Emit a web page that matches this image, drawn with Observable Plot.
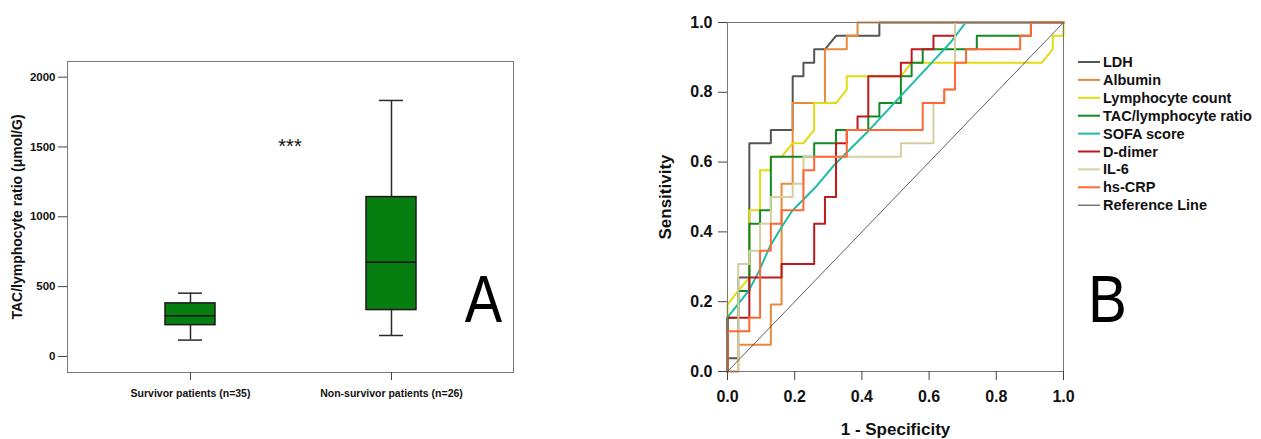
<!DOCTYPE html>
<html><head><meta charset="utf-8">
<script src="https://cdn.jsdelivr.net/npm/d3@7"></script>
<script src="https://cdn.jsdelivr.net/npm/@observablehq/plot@0.6"></script>
<style>
html,body{margin:0;padding:0;background:#fff;}
#wrap{position:relative;width:1261px;height:439px;overflow:hidden;background:#fff;}
#wrap > svg{position:absolute;top:0;margin:0;}
</style></head><body><div id="wrap"></div>
<script>
const FONT = '"Liberation Sans", Arial, Helvetica, sans-serif';

// ---------- Panel A: box plot ----------
const groups   = ["Survivor patients (n=35)", "Non-survivor patients (n=26)"];
const whiskLow = [117, 150];
const q1       = [224, 332];
const medians  = [291, 675];
const q3       = [380, 1141];
const whiskHigh= [453, 1833];
const yTicksA  = [0, 500, 1000, 1500, 2000];
const yTitleA  = "TAC/lymphocyte ratio (\u03bcmol/G)";

// ---------- Panel B: ROC curves ([1 - specificity, sensitivity]) ----------
const ldh = [[0,0],[0,.038],[.032,.038],[.032,.269],[.065,.269],[.065,.654],[.129,.654],[.129,.692],[.194,.692],[.194,.846],[.226,.846],[.226,.885],[.258,.885],[.258,.923],[.290,.923],[.323,.962],[.452,.962],[.452,1],[1,1]];
const albumin = [[0,0],[.032,0],[.032,.077],[.129,.077],[.129,.192],[.161,.192],[.161,.538],[.194,.538],[.194,.769],[.290,.769],[.290,.923],[.355,.923],[.355,.962],[.387,.962],[.387,1],[1,1]];
const lymphocyte = [[0,0],[0,.192],[.032,.231],[.065,.269],[.065,.462],[.097,.462],[.097,.577],[.129,.577],[.129,.615],[.161,.615],[.194,.654],[.226,.654],[.258,.692],[.258,.769],[.323,.769],[.355,.808],[.355,.846],[.516,.846],[.548,.885],[.935,.885],[.968,.923],[.968,.962],[1,.962],[1,1]];
const tacRatio = [[0,0],[0,.154],[.032,.154],[.032,.231],[.065,.231],[.065,.423],[.097,.423],[.097,.462],[.129,.462],[.129,.615],[.258,.615],[.258,.654],[.323,.654],[.323,.692],[.419,.692],[.419,.731],[.452,.731],[.452,.769],[.516,.769],[.516,.846],[.548,.846],[.548,.885],[.581,.885],[.581,.923],[.742,.923],[.742,.962],[.903,.962],[.903,1],[1,1]];
const sofa = [[0,0],[0,.155],[.063,.231],[.092,.284],[.127,.36],[.16,.412],[.192,.46],[.261,.527],[.32,.594],[.42,.69],[.664,.943],[.709,1],[1,1]];
const dDimer = [[0,0],[0,.154],[.065,.154],[.065,.269],[.161,.269],[.161,.308],[.258,.308],[.258,.423],[.290,.423],[.290,.5],[.323,.5],[.323,.654],[.355,.654],[.355,.692],[.387,.692],[.387,.731],[.419,.731],[.419,.846],[.516,.846],[.516,.885],[.548,.885],[.548,.923],[.613,.923],[.613,.962],[.677,.962],[.677,1],[1,1]];
const il6 = [[0,0],[.032,0],[.032,.308],[.065,.308],[.065,.346],[.097,.346],[.097,.423],[.129,.423],[.129,.5],[.194,.5],[.194,.538],[.226,.538],[.226,.615],[.516,.615],[.516,.654],[.613,.654],[.613,.769],[.645,.769],[.645,.808],[.677,.808],[.677,1],[1,1]];
const hsCrp = [[0,0],[0,.115],[.065,.115],[.065,.154],[.097,.154],[.097,.346],[.129,.346],[.129,.423],[.161,.423],[.161,.462],[.226,.462],[.226,.577],[.258,.577],[.258,.615],[.355,.615],[.355,.692],[.581,.692],[.581,.769],[.645,.769],[.645,.808],[.677,.808],[.677,.885],[.710,.885],[.710,.923],[.871,.923],[.871,.962],[.903,.962],[.903,1],[1,1]];
const refLine = [[0,0],[1,1]];

const seriesNames  = ["LDH","Albumin","Lymphocyte count","TAC/lymphocyte ratio","SOFA score","D-dimer","IL-6","hs-CRP","Reference Line"];
const seriesColors = ["#555555","#E8893C","#E2DA12","#138A22","#1DBBA6","#BD1A1D","#D3CFA1","#FF6835","#333333"];
const seriesData   = [ldh, albumin, lymphocyte, tacRatio, sofa, dDimer, il6, hsCrp, refLine];
const rocTicks = [0, 0.2, 0.4, 0.6, 0.8, 1.0];

const wrap = document.getElementById("wrap");

// ---------- build panel A ----------
const boxData = groups.map((g, i) => ({group: g, low: whiskLow[i], q1: q1[i], med: medians[i], q3: q3[i], high: whiskHigh[i]}));
const plotA = Plot.plot({
  width: 640, height: 439,
  marginLeft: 67, marginRight: 127, marginTop: 61, marginBottom: 67,
  style: {background: "transparent", fontFamily: FONT, color: "#222"},
  x: {type: "band", domain: groups, paddingInner: 0.752, paddingOuter: 0.48, align: 0.5},
  y: {domain: [-115, 2112]},
  marks: [
    Plot.ruleX(boxData, {x: "group", y1: "low", y2: "high", stroke: "#2a2a2a", strokeWidth: 1.5}),
    Plot.tickY(boxData, {x: "group", y: "low", insetLeft: 13, insetRight: 13, stroke: "#2a2a2a", strokeWidth: 1.5}),
    Plot.tickY(boxData, {x: "group", y: "high", insetLeft: 13, insetRight: 13, stroke: "#2a2a2a", strokeWidth: 1.5}),
    Plot.barY(boxData, {x: "group", y1: "q1", y2: "q3", fill: "#077F10", stroke: "#1a1a1a", strokeWidth: 1.5}),
    Plot.tickY(boxData, {x: "group", y: "med", stroke: "#111", strokeWidth: 1.5}),
    Plot.frame({stroke: "#777"}),
    Plot.axisY({ticks: yTicksA, tickFormat: d => String(d), tickSize: 9, tickPadding: 3, fontSize: 11.5, fontWeight: "bold", label: null, stroke: "#444", fill: "#111"}),
    Plot.axisX({tickSize: 8, tickPadding: 9, fontSize: 10.5, fontWeight: "bold", label: null, stroke: "#444", fill: "#111"}),
    Plot.text([yTitleA], {frameAnchor: "left", textAnchor: "middle", rotate: -90, dx: -55, lineAnchor: "top", fontSize: 14, fontWeight: "bold", fill: "#111"})
  ]
});
plotA.style.left = "0px";
wrap.appendChild(plotA);

// ---------- build panel B ----------
const lineMarks = seriesData.map((pts, i) => Plot.line(pts, {
  x: d => d[0], y: d => d[1], stroke: seriesColors[i],
  strokeWidth: seriesNames[i] === "Reference Line" ? 0.8 : 2
}));
const plotB = Plot.plot({
  width: 621, height: 439,
  marginLeft: 87, marginRight: 198, marginTop: 22, marginBottom: 68,
  style: {background: "transparent", fontFamily: FONT, color: "#222"},
  x: {domain: [0, 1]},
  y: {domain: [0, 1]},
  marks: [
    ...lineMarks,
    Plot.frame({stroke: "#777"}),
    Plot.axisX({ticks: rocTicks, tickFormat: d3.format(".1f"), tickSize: 9, tickPadding: 10, fontSize: 16, fontWeight: "bold", label: null, stroke: "#444", fill: "#111"}),
    Plot.axisY({ticks: rocTicks, tickFormat: d3.format(".1f"), tickSize: 9, tickPadding: 6, fontSize: 16, fontWeight: "bold", label: null, stroke: "#444", fill: "#111"}),
    Plot.text(["1 - Specificity"], {frameAnchor: "bottom", dy: 63, lineAnchor: "bottom", fontSize: 17, fontWeight: "bold", fill: "#111"}),
    Plot.text(["Sensitivity"], {frameAnchor: "left", textAnchor: "middle", rotate: -90, dx: -69, lineAnchor: "top", fontSize: 17, fontWeight: "bold", fill: "#111"})
  ]
});
plotB.style.left = "640px";
wrap.appendChild(plotB);

// ---------- overlay: annotations and legend ----------
const ns = "http://www.w3.org/2000/svg";
const ov = document.createElementNS(ns, "svg");
ov.setAttribute("width", 1261); ov.setAttribute("height", 439);
ov.style.left = "0px"; ov.style.pointerEvents = "none";
ov.setAttribute("font-family", FONT);
function addText(parent, txt, attrs) {
  const t = document.createElementNS(ns, "text");
  for (const k in attrs) t.setAttribute(k, attrs[k]);
  t.textContent = txt; parent.appendChild(t); return t;
}
addText(ov, "***", {x: 290, y: 153, "text-anchor": "middle", "font-size": 20, fill: "#111"});
addText(ov, "A", {transform: "translate(483.5,322) scale(0.85,1)", "text-anchor": "middle", "font-size": 66, fill: "#000"});
addText(ov, "B", {transform: "translate(1107.5,322) scale(0.87,1)", "text-anchor": "middle", "font-size": 67, fill: "#000"});
seriesNames.forEach((name, i) => {
  const y = 62 + i * 17.9;
  const l = document.createElementNS(ns, "line");
  l.setAttribute("x1", 1078); l.setAttribute("x2", 1100);
  l.setAttribute("y1", y); l.setAttribute("y2", y);
  l.setAttribute("stroke", seriesColors[i]);
  l.setAttribute("stroke-width", name === "Reference Line" ? 1 : 2);
  ov.appendChild(l);
  addText(ov, name, {x: 1103, y: y, "dominant-baseline": "central", "font-size": 14.5, "font-weight": "bold", fill: "#111"});
});
wrap.appendChild(ov);
</script>
</body></html>
